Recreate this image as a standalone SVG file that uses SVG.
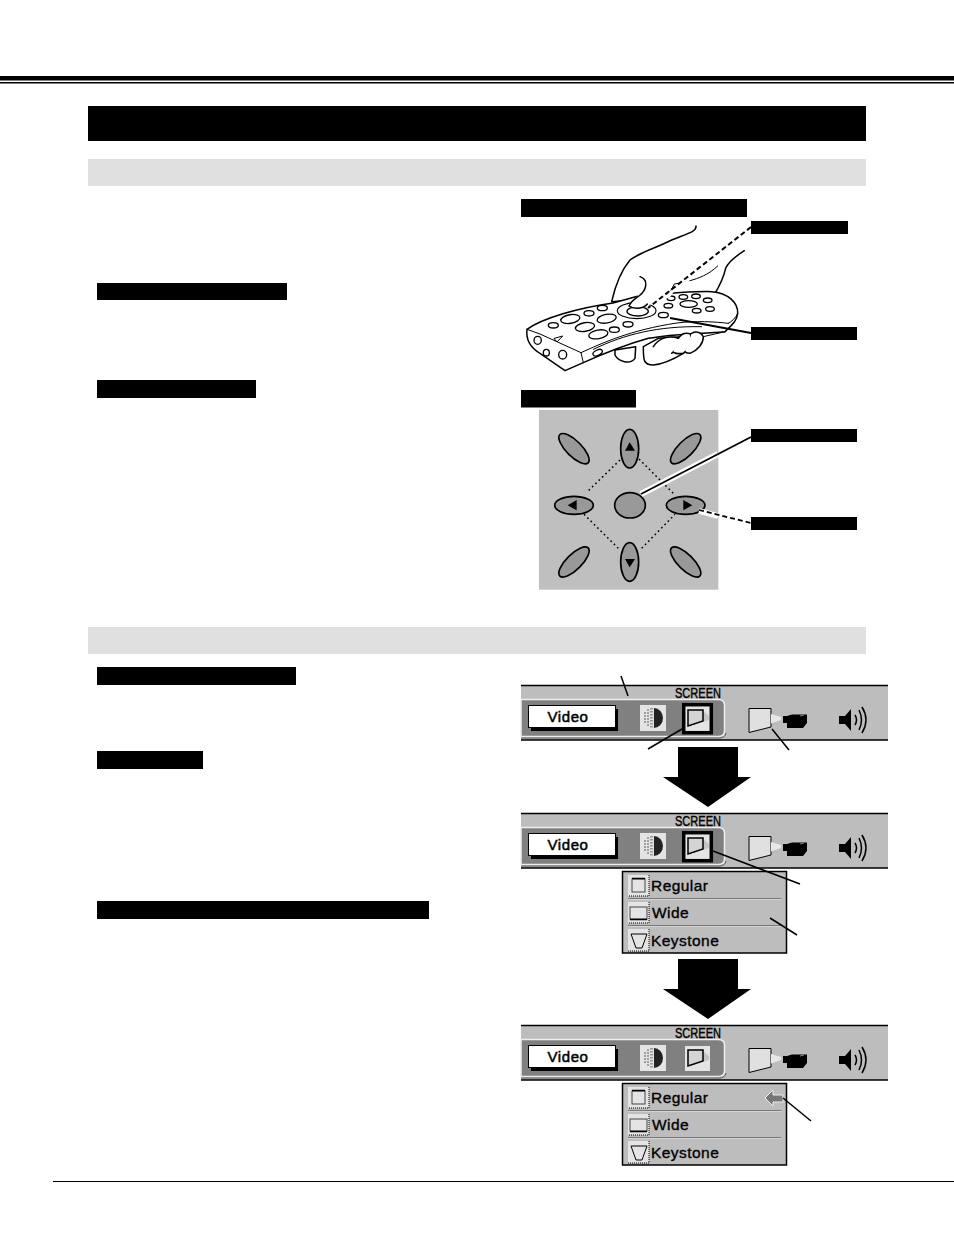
<svg xmlns="http://www.w3.org/2000/svg" width="954" height="1235" viewBox="0 0 954 1235">
<style>
.k{fill:#000}
.band{fill:#e0e0e0}
.ln{fill:none;stroke:#000;stroke-width:1.5}
.hand{fill:#fff;stroke:#000;stroke-width:4.500;stroke-linejoin:round;stroke-linecap:round}
.thin{fill:none;stroke:#000;stroke-width:3;stroke-linecap:round}
.btn{fill:#fff;stroke:#000;stroke-width:4}
.pad{fill:#999;stroke:#000;stroke-width:5}
.dot{fill:none;stroke:#000;stroke-width:4.500;stroke-dasharray:5 9}
.t{font-family:"Liberation Sans",Arial,sans-serif;fill:#000}
.video{font-size:15px;letter-spacing:.6px;text-anchor:middle;stroke:#000;stroke-width:.5}
.scr{font-size:14.500px;stroke:#000;stroke-width:.4}
.item{font-size:15.500px;letter-spacing:.45px;stroke:#000;stroke-width:.35}
</style>
<defs>
<g id="bar-art">
<rect x="521" y="685" width="367" height="55" fill="#bdbdbd"/>
<path d="M521 685.500H888M521 740H888" fill="none" stroke="#000" stroke-width="1.500"/>
<path d="M521 699.500H718Q724.500 699.500 724.500 705V731Q724.500 736.500 718 736.500H521Z" fill="#808080" stroke="#eee" stroke-width="1.500"/>
<path d="M521 738H719Q725 738 726 733" fill="none" stroke="#555" stroke-width="1"/>
<rect x="531" y="709" width="87" height="22" fill="#000"/>
<rect x="528.500" y="705.500" width="87" height="22" fill="#fff" stroke="#000" stroke-width="1"/>
<rect x="640" y="705" width="26" height="26" fill="#e4e4e4"/>
<path d="M654 708A9 10 0 0 1 654 728Z" fill="#222"/>
<path d="M651.500 708V728" stroke="#999" stroke-width="3" stroke-dasharray="1.500 1.500"/>
<path d="M645 712V724M648 709V727" stroke="#888" stroke-width="1.500" stroke-dasharray="2 1"/>
<path d="M749 708.500H771V727L749 732.500Z" fill="#e0e0e0" stroke="#000" stroke-width="1"/>
<path d="M771 714L781 717V720L771 723.500Z" fill="#e8e8e8"/>
<path d="M783 716H787L792 714.500H807V723L803 728H787V723H783Z" fill="#000"/>
<path d="M800 716L804 715" stroke="#888" stroke-width="1"/>
<path d="M839 716H845L851 709V731L845 724H839Z" fill="#000"/>
<path d="M855 715Q858 720 855 725M859 710Q864 720 859 730M862 707Q870 720 862 733" fill="none" stroke="#000" stroke-width="1.500"/>
</g>
<g id="icon-face">
<path d="M703 711L709 716V720L703 722Z" fill="#c4c4c4"/>
<path d="M688 710H703V721L688 726Z" fill="#d4d4d4" stroke="#000" stroke-width="1.500"/>
</g>
<g id="menu-art">
<rect x="622.500" y="871.500" width="164" height="81.500" fill="#bdbdbd" stroke="#000" stroke-width="1.500"/>
<path d="M628 899H781M628 926H781" stroke="#eee" stroke-width="1"/>
<path d="M628 898.500H781M628 925.500H781" stroke="#777" stroke-width="1"/>
<g fill="#e4e4e4"><rect x="628" y="875" width="21" height="21"/><rect x="628" y="902" width="21" height="21"/><rect x="628" y="929" width="21" height="22"/></g>
<g fill="none" stroke="#000" stroke-width="1" stroke-dasharray="1 1"><path d="M649 875V896H628M649 902V923H628M649 929V951H628"/></g>
<rect x="632" y="879" width="13" height="13" fill="none" stroke="#444" stroke-width="1"/>
<path d="M632 878.500H645" stroke="#000" stroke-width="1.500"/>
<rect x="630" y="907" width="17" height="12" fill="none" stroke="#444" stroke-width="1"/>
<path d="M630 919.500H647" stroke="#000" stroke-width="1.500"/>
<path d="M631 934H647L642 948H636Z" fill="none" stroke="#000" stroke-width="1"/>
</g>
<path id="down" d="M678 747H738V777H751L708 807L663 777H678Z" fill="#000"/>
</defs>

<g id="page-rules">
<rect x="0" y="76" width="954" height="4.500" class="k"/>
<rect x="0" y="82" width="954" height="1.500" class="k"/>
<rect x="53" y="1181" width="901" height="1" class="k"/>
</g>
<g id="title-bar"><rect x="88" y="106" width="778" height="35" class="k"/></g>
<g id="band-1"><rect x="88" y="159" width="778" height="27" class="band"/></g>
<g id="band-2"><rect x="88" y="627" width="778" height="27" class="band"/></g>
<g id="left-headings">
<rect x="97" y="283" width="190" height="17" class="k"/>
<rect x="97" y="380" width="159" height="18" class="k"/>
<rect x="97" y="667" width="199" height="18" class="k"/>
<rect x="97" y="751" width="106" height="18" class="k"/>
<rect x="97" y="901" width="332" height="18" class="k"/>
</g>
<g id="remote-heading"><rect x="521" y="199" width="226" height="18" class="k"/></g>
<g id="pad-heading"><rect x="521" y="390" width="115" height="17.500" class="k"/></g>

<g id="remote" transform="translate(515 190) scale(.33333)">
<path class="hand" d="M543 108C545 125 520 130 470 150C420 175 370 190 345 210C320 240 300 290 290 335L600 310C615 285 625 265 632 235C640 215 660 200 688 182"/>
<path class="hand" d="M300 495C310 515 345 525 360 505L362 470L300 480Z"/>
<path class="hand" d="M36 418C84 384 189 354 294 339L370 318C460 310 540 303 590 305C640 308 670 340 668 370C665 395 650 405 630 425C560 432 480 430 400 445C340 462 290 480 205 518L150 542L75 490C50 475 32 450 36 418Z"/>
<path class="thin" d="M36 418L75 432L198 488C260 460 345 420 486 399C540 392 600 395 640 400M198 488L205 518M640 400C650 395 660 385 668 372M235 478C330 432 430 408 560 410"/>
<path class="hand" d="M385 470C385 510 385 525 415 525C450 522 480 505 505 490L500 440L430 445Z"/>
<path class="hand" d="M415 470C430 445 460 435 490 445C500 455 490 475 470 490"/>
<path class="hand" d="M490 445C500 430 515 428 527 432C530 450 520 480 505 490C495 492 480 490 475 487"/>
<path class="hand" d="M530 430C545 422 560 428 565 440C565 460 550 480 525 490C518 490 512 487 510 485"/>
<path class="thin" d="M565 440L630 425"/>
<path class="thin" d="M608 228C580 255 550 265 525 272M458 320L478 282L490 280"/>
<g class="btn">
<ellipse cx="166" cy="387" rx="29" ry="13" transform="rotate(-10 166 387)"/><ellipse cx="275" cy="386" rx="29" ry="13" transform="rotate(-10 275 386)"/><ellipse cx="210" cy="411" rx="29" ry="13" transform="rotate(-10 210 411)"/><ellipse cx="250" cy="433" rx="29" ry="13" transform="rotate(-10 250 433)"/>
<ellipse cx="115" cy="406" rx="15" ry="8"/><ellipse cx="222" cy="370" rx="15" ry="8"/><ellipse cx="262" cy="354" rx="15" ry="8"/><ellipse cx="298" cy="419" rx="15" ry="8"/><ellipse cx="339" cy="403" rx="15" ry="8"/>
<ellipse cx="460" cy="347" rx="13" ry="7"/><ellipse cx="468" cy="325" rx="12" ry="7"/><ellipse cx="505" cy="321" rx="13" ry="7"/><ellipse cx="543" cy="319" rx="13" ry="7"/><ellipse cx="578" cy="331" rx="13" ry="7"/><ellipse cx="585" cy="357" rx="13" ry="7"/><ellipse cx="545" cy="362" rx="13" ry="7"/><ellipse cx="521" cy="342" rx="26" ry="10"/><ellipse cx="445" cy="375" rx="15" ry="8"/>
<ellipse cx="68" cy="451" rx="11" ry="12"/><ellipse cx="94" cy="488" rx="9" ry="10"/><ellipse cx="143" cy="494" rx="12" ry="13"/><ellipse cx="248" cy="488" rx="15" ry="8" transform="rotate(-25 248 488)"/>
</g>
<path class="thin" d="M118 445L143 438L127 455Z"/>
<ellipse cx="365" cy="362" rx="58" ry="24" fill="none" stroke="#000" stroke-width="3.500"/>
<ellipse cx="368" cy="364" rx="32" ry="14" fill="#fff" stroke="#000" stroke-width="4"/>
<path d="M370 314L480 300L465 322L402 345C385 358 355 358 342 345Z" fill="#fff"/>
<path class="hand" style="fill:none" d="M342 348C350 332 362 325 372 318C395 300 402 270 375 260M342 348C355 358 385 358 397 342"/>
</g>

<g id="control-pad" transform="translate(515 385) scale(.33333)">
<rect x="72" y="75" width="538" height="539" fill="#bfbfbf"/>
<path class="dot" d="M315 225L215 322M372 222L475 325M207 388L310 490M380 490L480 388"/>
<g class="pad">
<ellipse cx="177" cy="191" rx="60" ry="23" transform="rotate(45 177 191)"/><ellipse cx="512" cy="191" rx="60" ry="23" transform="rotate(-45 512 191)"/><ellipse cx="177" cy="531" rx="60" ry="23" transform="rotate(-45 177 531)"/><ellipse cx="512" cy="531" rx="60" ry="23" transform="rotate(45 512 531)"/>
<ellipse cx="344" cy="191" rx="27" ry="58"/><ellipse cx="344" cy="531" rx="27" ry="58"/><ellipse cx="177" cy="361" rx="58" ry="27"/><ellipse cx="512" cy="361" rx="58" ry="27"/><ellipse cx="345" cy="361" rx="46" ry="38"/>
</g>
<path class="k" d="M344 172L360 197H330ZM344 547L360 522H330ZM158 361L185 345V376ZM532 361L505 345V376Z"/>
</g>

<g id="menu-1">
<use href="#bar-art"/>
<rect x="683.700" y="704.700" width="27.600" height="28" fill="#e4e4e4" stroke="#000" stroke-width="3.500"/>
<use href="#icon-face"/>
<text class="t scr" x="675" y="698" textLength="46" lengthAdjust="spacingAndGlyphs">SCREEN</text>
<text class="t video" x="568" y="722">Video</text>
</g>
<g id="arrow-1"><use href="#down"/></g>
<g id="menu-2">
<use href="#bar-art" y="128"/>
<rect x="683.700" y="832.700" width="27.600" height="28" fill="#e4e4e4" stroke="#000" stroke-width="3.500"/>
<use href="#icon-face" y="128"/>
<text class="t scr" x="675" y="826" textLength="46" lengthAdjust="spacingAndGlyphs">SCREEN</text>
<text class="t video" x="568" y="850">Video</text>
<use href="#menu-art"/>
<text class="t item" x="651" y="891">Regular</text>
<text class="t item" x="652" y="918">Wide</text>
<text class="t item" x="651" y="946">Keystone</text>
</g>
<g id="arrow-2"><use href="#down" y="212"/></g>
<g id="menu-3">
<use href="#bar-art" y="340"/>
<rect x="685" y="1046" width="25" height="25" fill="#e4e4e4"/>
<use href="#icon-face" y="340"/>
<text class="t scr" x="675" y="1038" textLength="46" lengthAdjust="spacingAndGlyphs">SCREEN</text>
<text class="t video" x="568" y="1062">Video</text>
<use href="#menu-art" y="212"/>
<path d="M765 1098L773 1090V1095H783V1102H773V1106Z" fill="#777" stroke="#eee" stroke-width="1"/>
<text class="t item" x="651" y="1103">Regular</text>
<text class="t item" x="652" y="1130">Wide</text>
<text class="t item" x="651" y="1158">Keystone</text>
</g>

<g id="connectors">
<path d="M751 227L648 308" fill="none" stroke="#000" stroke-width="2" stroke-dasharray="5 3"/>
<path d="M670 318L751 333" fill="none" stroke="#000" stroke-width="1.800"/>
<path d="M641 494L718 454" stroke="#fff" stroke-width="6" fill="none"/>
<path d="M641 494L751 437" stroke="#000" stroke-width="1.800" fill="none"/>
<path d="M699 511L718 516" stroke="#fff" stroke-width="5.500" fill="none"/>
<path d="M699 510L751 523" stroke="#000" stroke-width="1.800" fill="none" stroke-dasharray="5 3"/>
<path class="ln" d="M621 676L628 696"/>
<path class="ln" d="M648 749L682 729"/>
<path class="ln" d="M772 729L789 750"/>
<path class="ln" d="M713 851L800 884"/>
<path class="ln" d="M770 918L797 935"/>
<path class="ln" d="M783 1098L811 1121"/>
</g>
<g id="callout-labels">
<rect x="751" y="221" width="97" height="13" class="k"/>
<rect x="751" y="327" width="106" height="13" class="k"/>
<rect x="751" y="429" width="106" height="13" class="k"/>
<rect x="751" y="517" width="106" height="13" class="k"/>
</g>
</svg>
